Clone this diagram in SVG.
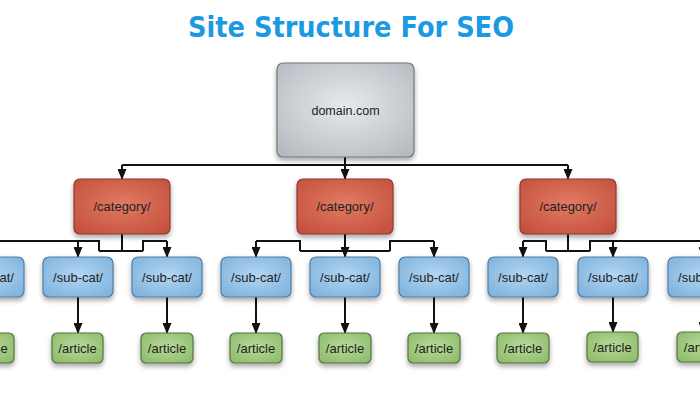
<svg xmlns="http://www.w3.org/2000/svg" width="700" height="400" viewBox="0 0 700 400">
<defs>
<radialGradient id="gDom" cx="50%" cy="45%" r="70%"><stop offset="0" stop-color="#e6eaed"/><stop offset="1" stop-color="#b3babf"/></radialGradient>
<radialGradient id="gCat" cx="50%" cy="45%" r="70%"><stop offset="0" stop-color="#e27a64"/><stop offset="1" stop-color="#c24f3b"/></radialGradient>
<radialGradient id="gSub" cx="50%" cy="45%" r="70%"><stop offset="0" stop-color="#b2d6f2"/><stop offset="1" stop-color="#7db1dc"/></radialGradient>
<radialGradient id="gArt" cx="50%" cy="45%" r="70%"><stop offset="0" stop-color="#b8da9a"/><stop offset="1" stop-color="#8cba69"/></radialGradient>
<filter id="sh" x="-20%" y="-20%" width="140%" height="160%"><feDropShadow dx="0" dy="3" stdDeviation="2.5" flood-color="#000" flood-opacity="0.35"/></filter>
<marker id="ah" viewBox="0 0 12 10" refX="11" refY="5" markerWidth="12" markerHeight="9" markerUnits="userSpaceOnUse" orient="auto"><path d="M0,0 L12,5 L0,10 z" fill="#111"/></marker>
</defs>
<style>
.t{font-family:"Liberation Sans",Arial,sans-serif;font-size:13px;fill:#222;text-anchor:middle}
.dom{fill:url(#gDom);stroke:#70777c;stroke-width:1.2;filter:url(#sh)}
.cat{fill:url(#gCat);stroke:#8e3a2c;stroke-width:1.2;filter:url(#sh)}
.sub{fill:url(#gSub);stroke:#4f7ea6;stroke-width:1.2;filter:url(#sh)}
.art{fill:url(#gArt);stroke:#55743d;stroke-width:1.2;filter:url(#sh)}
.ln{fill:none;stroke:#111;stroke-width:2}
.ar{fill:none;stroke:#111;stroke-width:2;marker-end:url(#ah)}
.title{font-family:"DejaVu Sans","Liberation Sans",sans-serif;font-weight:bold;font-size:29px;fill:#1b9ae2;text-anchor:middle}
</style>
<rect width="700" height="400" fill="#ffffff"/>
<text class="title" x="351" y="37" textLength="326" lengthAdjust="spacingAndGlyphs">Site Structure For SEO</text>

<g id="connectors">
<path class="ln" d="M122,165 H568"/>
<line class="ar" x1="122" y1="165" x2="122" y2="179"/>
<line class="ar" x1="345" y1="157" x2="345" y2="179"/>
<line class="ar" x1="568" y1="165" x2="568" y2="179"/>
<path class="ln" d="M122,234 V251 M99,251 H143 M99,251 V241 H-11 M143,251 V241 H167"/>
<line class="ar" x1="-11" y1="241" x2="-11" y2="257"/>
<line class="ar" x1="78" y1="241" x2="78" y2="257"/>
<line class="ar" x1="167" y1="241" x2="167" y2="257"/>
<path class="ln" d="M300,251 H390 M300,251 V241 H256 M390,251 V241 H434"/>
<line class="ar" x1="345" y1="234" x2="345" y2="257"/>
<line class="ar" x1="256" y1="241" x2="256" y2="257"/>
<line class="ar" x1="434" y1="241" x2="434" y2="257"/>
<path class="ln" d="M568,234 V251 M546,251 H590 M546,251 V241 H523 M590,251 V241 H710"/>
<line class="ar" x1="523" y1="241" x2="523" y2="257"/>
<line class="ar" x1="613" y1="241" x2="613" y2="257"/>
<line class="ar" x1="703" y1="241" x2="703" y2="257"/>
<line class="ar" x1="-11" y1="297" x2="-11" y2="333"/>
<line class="ar" x1="78" y1="297" x2="78" y2="333"/>
<line class="ar" x1="167" y1="297" x2="167" y2="333"/>
<line class="ar" x1="256" y1="297" x2="256" y2="333"/>
<line class="ar" x1="345" y1="297" x2="345" y2="333"/>
<line class="ar" x1="434" y1="297" x2="434" y2="333"/>
<line class="ar" x1="523" y1="297" x2="523" y2="333"/>
<line class="ar" x1="613" y1="297" x2="613" y2="332"/>
<line class="ar" x1="703" y1="297" x2="703" y2="332"/>
</g>

<g id="domain"><rect class="dom" x="277" y="63" width="137" height="94" rx="6"/><text class="t" x="345.5" y="115" style="font-size:12.5px">domain.com</text></g>

<g id="cat1"><rect class="cat" x="74" y="179" width="96" height="55" rx="6"/><text class="t" x="122" y="211">/category/</text></g>
<g id="cat2"><rect class="cat" x="297" y="179" width="96" height="55" rx="6"/><text class="t" x="345" y="211">/category/</text></g>
<g id="cat3"><rect class="cat" x="520" y="179" width="96" height="55" rx="6"/><text class="t" x="568" y="211">/category/</text></g>

<g id="sub1"><rect class="sub" x="-46" y="257" width="70" height="40" rx="6"/><text class="t" x="-11" y="282">/sub-cat/</text></g>
<g id="sub2"><rect class="sub" x="43" y="257" width="70" height="40" rx="6"/><text class="t" x="78" y="282">/sub-cat/</text></g>
<g id="sub3"><rect class="sub" x="132" y="257" width="70" height="40" rx="6"/><text class="t" x="167" y="282">/sub-cat/</text></g>
<g id="sub4"><rect class="sub" x="221" y="257" width="70" height="40" rx="6"/><text class="t" x="256" y="282">/sub-cat/</text></g>
<g id="sub5"><rect class="sub" x="310" y="257" width="70" height="40" rx="6"/><text class="t" x="345" y="282">/sub-cat/</text></g>
<g id="sub6"><rect class="sub" x="399" y="257" width="70" height="40" rx="6"/><text class="t" x="434" y="282">/sub-cat/</text></g>
<g id="sub7"><rect class="sub" x="488" y="257" width="70" height="40" rx="6"/><text class="t" x="523" y="282">/sub-cat/</text></g>
<g id="sub8"><rect class="sub" x="578" y="257" width="70" height="40" rx="6"/><text class="t" x="613" y="282">/sub-cat/</text></g>
<g id="sub9"><rect class="sub" x="668" y="257" width="70" height="40" rx="6"/><text class="t" x="703" y="282">/sub-cat/</text></g>

<g id="art1"><rect class="art" x="-37" y="333" width="51" height="30" rx="5"/><text class="t" x="-11.5" y="353">/article</text></g>
<g id="art2"><rect class="art" x="52" y="333" width="51" height="30" rx="5"/><text class="t" x="77.5" y="353">/article</text></g>
<g id="art3"><rect class="art" x="141" y="333" width="52" height="30" rx="5"/><text class="t" x="167" y="353">/article</text></g>
<g id="art4"><rect class="art" x="230" y="333" width="52" height="30" rx="5"/><text class="t" x="256" y="353">/article</text></g>
<g id="art5"><rect class="art" x="319" y="333" width="52" height="30" rx="5"/><text class="t" x="345" y="353">/article</text></g>
<g id="art6"><rect class="art" x="408" y="333" width="52" height="30" rx="5"/><text class="t" x="434" y="353">/article</text></g>
<g id="art7"><rect class="art" x="497" y="333" width="52" height="30" rx="5"/><text class="t" x="523" y="353">/article</text></g>
<g id="art8"><rect class="art" x="587" y="332" width="51" height="30" rx="5"/><text class="t" x="612.5" y="352">/article</text></g>
<g id="art9"><rect class="art" x="677" y="332" width="52" height="30" rx="5"/><text class="t" x="703" y="352">/article</text></g>
</svg>
